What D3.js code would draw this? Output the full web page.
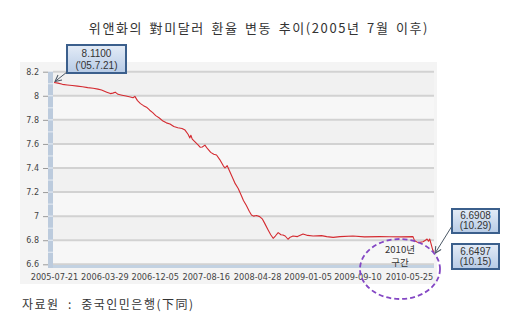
<!DOCTYPE html>
<html>
<head>
<meta charset="utf-8">
<script src="https://cdn.jsdelivr.net/npm/d3@7"></script>
<style>
   body { margin: 0; background: #fff; }
   svg { display: block; }
</style>
</head>
<body>
<script>
// 환율 데이터
dates = ['2005-07-21','2005-08-10','2005-09-01','2005-09-25','2005-10-20','2005-11-15','2005-12-10',
   '2006-01-05','2006-02-01','2006-02-25','2006-03-15','2006-04-10','2006-04-28','2006-05-10','2006-05-22',
   '2006-06-05','2006-06-25','2006-07-15','2006-08-05','2006-08-19','2006-08-28','2006-09-10','2006-09-25',
   '2006-10-10','2006-10-25','2006-11-10','2006-11-25','2006-12-10','2006-12-28','2007-01-15','2007-02-01',
   '2007-02-19','2007-03-10','2007-03-30','2007-04-20','2007-05-05','2007-05-20','2007-05-29','2007-06-03',
   '2007-06-10','2007-06-25','2007-07-10','2007-07-20','2007-07-30','2007-08-12','2007-08-25','2007-09-10',
   '2007-09-25','2007-10-09','2007-10-25','2007-11-11','2007-11-20','2007-12-01','2007-12-10','2007-12-30',
   '2008-01-10','2008-01-25','2008-02-10','2008-02-20','2008-03-05','2008-03-20','2008-03-31','2008-04-10',
   '2008-04-25','2008-05-11','2008-05-25','2008-06-05','2008-06-22','2008-07-05','2008-07-17','2008-07-28',
   '2008-08-11','2008-08-25','2008-09-04','2008-09-15','2008-09-29','2008-10-10','2008-10-24','2008-11-15',
   '2008-12-13','2009-01-05','2009-02-01','2009-03-15','2009-04-10','2009-05-12','2009-06-15','2009-08-19',
   '2009-10-15','2009-12-30','2010-02-15','2010-04-15','2010-06-14','2010-06-22','2010-07-10','2010-08-03',
   '2010-08-15','2010-08-23','2010-08-30','2010-09-05','2010-09-12','2010-09-20','2010-09-27'];
rates = [8.110,8.105,8.095,8.090,8.085,8.080,8.075,
   8.068,8.062,8.055,8.048,8.030,8.018,8.022,8.030,
   8.012,8.005,7.998,7.990,7.984,7.995,7.960,7.935,
   7.918,7.905,7.880,7.860,7.835,7.815,7.790,7.775,
   7.765,7.745,7.735,7.728,7.715,7.680,7.650,7.672,
   7.640,7.615,7.590,7.572,7.575,7.590,7.560,7.530,
   7.515,7.508,7.470,7.420,7.400,7.420,7.385,7.310,
   7.270,7.230,7.170,7.130,7.090,7.040,7.010,7.000,
   7.005,6.996,6.975,6.940,6.885,6.845,6.816,6.835,
   6.863,6.845,6.844,6.835,6.808,6.825,6.835,6.830,
   6.852,6.840,6.835,6.838,6.830,6.824,6.830,6.835,
   6.828,6.830,6.829,6.828,6.830,6.795,6.780,6.787,
   6.800,6.810,6.792,6.810,6.770,6.720,6.700];
// 축 눈금
xTicks = ['2005-07-21','2006-03-29','2006-12-05','2007-08-16','2008-04-28','2009-01-05','2009-09-10','2010-05-25'];
yTicks = [6.6, 6.8, 7, 7.2, 7.4, 7.6, 7.8, 8, 8.2];

title = '위앤화의 對미달러 환율 변동 추이(2005년 7월 이후)';
source = '자료원  :  중국인민은행(下同)';

parse = d3.timeParse('%Y-%m-%d');
data = dates.map((d, i) => ({date: parse(d), rate: rates[i]}));

width = 520;
height = 323;
x = d3.scaleTime()
   .domain([parse('2005-07-21'), parse('2010-05-25')])
   .range([54, 409]);
y = d3.scaleLinear()
   .domain([6.6, 8.2])
   .range([264.3, 71.7]);

svg = d3.select('body').append('svg')
   .attr('width', width)
   .attr('height', height);

// 회색 패널
svg.append('rect')
   .attr('x', 20).attr('y', 62)
   .attr('width', 417).attr('height', 222)
   .attr('fill', '#f4f4f4');

// 줄무늬 배경
bands = d3.pairs(yTicks);
svg.append('g').selectAll('rect')
   .data(bands)
.enter().append('rect')
   .attr('x', 53)
   .attr('y', (d) => {return y(d[1]);})
   .attr('width', 381)
   .attr('height', (d) => {return y(d[0]) - y(d[1]);})
   .attr('fill', (d, i) => {return i % 2 ? '#f1f1f1' : '#f7f7f7';});

// 격자선
svg.append('g').selectAll('line')
   .data(yTicks)
.enter().append('line')
   .attr('x1', 53).attr('x2', 434)
   .attr('y1', (d) => {return y(d);})
   .attr('y2', (d) => {return y(d);})
   .attr('stroke', '#d2d2d2')
   .attr('stroke-width', 2);

// 왼쪽 파란 막대
svg.append('rect')
   .attr('x', 48).attr('y', y(8.2))
   .attr('width', 5).attr('height', 268 - y(8.2))
   .attr('fill', '#bccbdd');
svg.append('g').selectAll('line')
   .data(d3.range(6.7, 8.2, 0.1))
.enter().append('line')
   .attr('x1', 48).attr('x2', 53)
   .attr('y1', (d) => {return y(d);})
   .attr('y2', (d) => {return y(d);})
   .attr('stroke', '#e8eef5')
   .attr('stroke-width', 1);

// 아래 파란 띠
svg.append('rect')
   .attr('x', 53).attr('y', 265)
   .attr('width', 381).attr('height', 3)
   .attr('fill', '#c3d2e2');

// y축
yAxis = svg.append('g')
   .attr('transform', 'translate(48, 0)')
   .call(d3.axisLeft(y).tickValues(yTicks).tickSize(5).tickPadding(4).tickFormat((d) => {return String(d);}));
yAxis.select('.domain').remove();
yAxis.selectAll('line').attr('stroke', '#9a9a9a');
yAxis.selectAll('text')
   .attr('fill', '#444')
   .style('font', '8px "DejaVu Sans", sans-serif');

// x축
xAxis = svg.append('g')
   .attr('transform', 'translate(0, 274)')
   .call(d3.axisBottom(x).tickValues(xTicks.map(parse)).tickSize(0).tickPadding(0).tickFormat(d3.timeFormat('%Y-%m-%d')));
xAxis.select('.domain').remove();
xAxis.selectAll('text')
   .attr('fill', '#444')
   .style('font', '8.2px "DejaVu Sans", sans-serif');

// 환율 선
line = d3.line()
   .x((d) => {return x(d.date);})
   .y((d) => {return y(d.rate);});
svg.append('path')
   .datum(data)
   .attr('d', line)
   .attr('fill', 'none')
   .attr('stroke', '#d42a30')
   .attr('stroke-width', 1.1)
   .attr('stroke-linejoin', 'round');

// 제목
svg.append('text')
   .attr('x', 259).attr('y', 33)
   .attr('text-anchor', 'middle')
   .attr('fill', '#333')
   .style('font', '13px "Noto Sans CJK KR", sans-serif')
   .style('letter-spacing', '1.6px')
   .style('word-spacing', '2px')
   .text(title);

// 자료원
svg.append('text')
   .attr('x', 22).attr('y', 309)
   .attr('fill', '#333')
   .style('font', '12px "Noto Sans CJK KR", sans-serif')
   .style('letter-spacing', '1.5px')
   .style('white-space', 'pre')
   .text(source);

// 화살표 머리
defs = svg.append('defs');
defs.append('marker')
   .attr('id', 'arrow')
   .attr('viewBox', '0 0 10 10')
   .attr('refX', 9).attr('refY', 5)
   .attr('markerWidth', 8).attr('markerHeight', 8)
   .attr('orient', 'auto')
.append('path')
   .attr('d', 'M1,1 L9,5 L1,9')
   .attr('fill', 'none')
   .attr('stroke', '#4b5866')
   .attr('stroke-width', 1.3);
grad = defs.append('linearGradient')
   .attr('id', 'boxFill')
   .attr('x1', 0).attr('y1', 0).attr('x2', 0).attr('y2', 1);
grad.append('stop').attr('offset', '0%').attr('stop-color', '#e4ecf7');
grad.append('stop').attr('offset', '100%').attr('stop-color', '#b7cbe6');

// 주석 상자
notes = [
   {x: 67, y: 45, w: 59, h: 28, lines: ['8.1100', "('05.7.21)"]},
   {x: 452, y: 209, w: 47, h: 24, lines: ['6.6908', '(10.29)']},
   {x: 452, y: 244, w: 47, h: 25, lines: ['6.6497', '(10.15)']}
];
noteG = svg.append('g').selectAll('g')
   .data(notes)
.enter().append('g');
noteG.append('rect')
   .attr('x', (d) => {return d.x;})
   .attr('y', (d) => {return d.y;})
   .attr('width', (d) => {return d.w;})
   .attr('height', (d) => {return d.h;})
   .attr('fill', 'url(#boxFill)')
   .attr('stroke', '#3b5f8c')
   .attr('stroke-width', 2);
noteG.each(function(d) {
   d3.select(this).selectAll('text')
      .data(d.lines)
   .enter().append('text')
      .attr('x', d.x + d.w / 2)
      .attr('y', (t, i) => {return d.y + d.h * 0.42 + i * d.h * 0.42;})
      .attr('text-anchor', 'middle')
      .attr('fill', '#333')
      .style('font', '10px "Liberation Sans", sans-serif')
      .text((t) => {return t;});
});

// 화살표
first = data[0];
last = data[data.length - 1];
svg.append('line')
   .attr('x1', 67).attr('y1', 72)
   .attr('x2', x(first.date) + 1).attr('y2', y(first.rate) - 1)
   .attr('stroke', '#4b5866').attr('stroke-width', 1)
   .attr('marker-end', 'url(#arrow)');
svg.append('line')
   .attr('x1', 452).attr('y1', 226)
   .attr('x2', x(last.date) + 1).attr('y2', y(last.rate) + 1)
   .attr('stroke', '#4b5866').attr('stroke-width', 1)
   .attr('marker-end', 'url(#arrow)');

// 2010년 구간 표시
svg.append('ellipse')
   .attr('cx', 400).attr('cy', 269)
   .attr('rx', 40).attr('ry', 30)
   .attr('fill', 'none')
   .attr('stroke', '#8447c4')
   .attr('stroke-width', 1.8)
   .attr('stroke-dasharray', '5,3');
svg.append('text')
   .attr('x', 400).attr('y', 252.5)
   .attr('text-anchor', 'middle')
   .attr('fill', '#333')
   .style('font', '9.5px "Noto Sans CJK KR", sans-serif')
   .text('2010년');
svg.append('text')
   .attr('x', 400).attr('y', 266)
   .attr('text-anchor', 'middle')
   .attr('fill', '#333')
   .style('font', '9.5px "Noto Sans CJK KR", sans-serif')
   .text('구간');
</script>
</body>
</html>
